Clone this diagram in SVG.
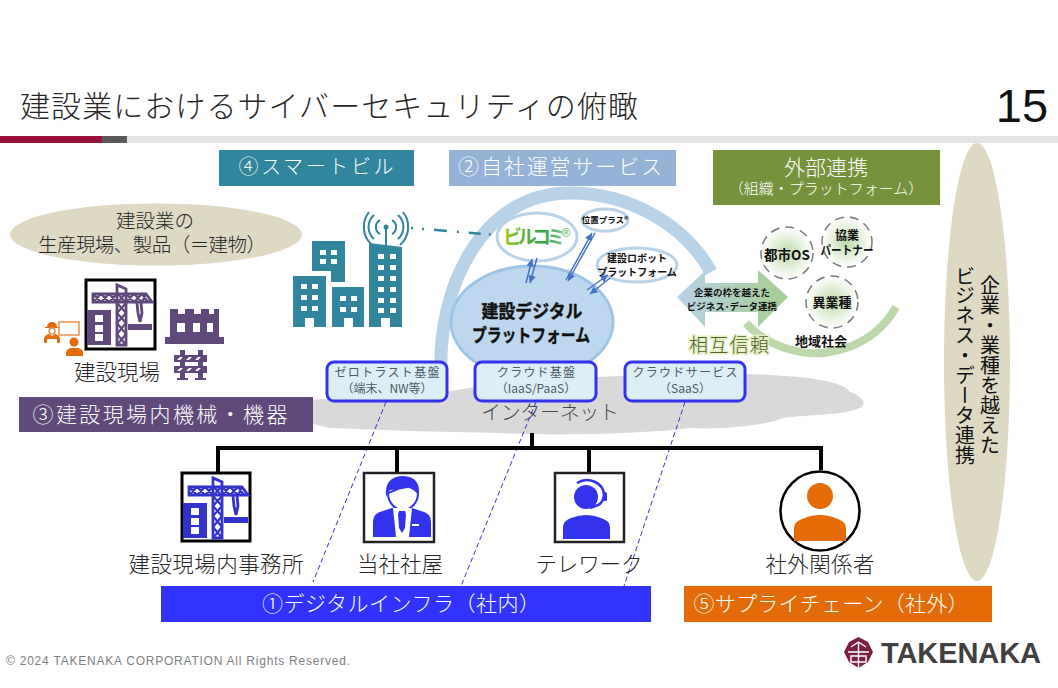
<svg xmlns="http://www.w3.org/2000/svg" xmlns:xlink="http://www.w3.org/1999/xlink" width="1058" height="688" viewBox="0 0 1058 688">
<style>
text{font-family:"Noto Sans CJK JP","Noto Sans",sans-serif;fill:#262626;text-anchor:middle;font-weight:300}
.w{fill:#fff}
.b{font-weight:700;fill:#111}
.lbl{font-size:21.500px}
.st{font-size:12px;fill:#4d5b66;font-weight:400}
.ln{fill:none;stroke:#000;stroke-width:4}
.dsh{fill:none;stroke:#3333cc;stroke-width:1;stroke-dasharray:5 3}
.svc{fill:#dceff7;stroke:#3333ee;stroke-width:3}
.sub{fill:#fff;stroke:#b8d2e8;stroke-width:3}
.org{fill:url(#gc);stroke:#7f7f7f;stroke-width:1.600;stroke-dasharray:9 6}
.ar{stroke:#4472c4;stroke-width:1.500;fill:none;marker-end:url(#ah)}
</style>
<defs>
<radialGradient id="gc"><stop offset="0" stop-color="#bcd9a8"/><stop offset="1" stop-color="#ffffff"/></radialGradient>
<linearGradient id="ga"><stop offset="0" stop-color="#b8d2e8"/><stop offset="1" stop-color="#a5cd8d"/></linearGradient>
<linearGradient id="gb" x1="0" y1="0" x2="1" y2="0"><stop offset="0" stop-color="#9ac81e"/><stop offset="0.6" stop-color="#2fa34a"/><stop offset="1" stop-color="#a8d8a0"/></linearGradient>
<marker id="ah" markerWidth="6" markerHeight="6" refX="5" refY="2.500" orient="auto"><path d="M0 0L5 2.500L0 5z" fill="#4472c4"/></marker>
<symbol id="crane" viewBox="0 0 70 70" overflow="visible">
<path fill="currentColor" d="M2 31h24v35H2z"/>
<path fill="#fff" d="M10 36h8v7h-8zM10 46h8v7h-8zM10 55h8v7h-8z"/>
<g fill="none" stroke="currentColor" stroke-width="2.800">
<path d="M32 66V6l9 4v56z"/>
<path d="M8 15H61L67 23H8z"/>
<path stroke-width="2.200" d="M8 15l8 8l8-8l8 8M32 15l-8 8l-8-8l-8 8M41 23l8-8l8 8l4-8M41 15l8 8l8-8l6 8"/>
<path stroke-width="2.200" d="M32 14l9 10l-9 10l9 10l-9 11l9 11M41 14l-9 10l9 10l-9 10l9 11l-9 11"/>
<path d="M52 24l1 10l2 9M56 24l1 10l-2 9"/>
</g>
<path fill="currentColor" d="M43 45h24v6H43z"/>
</symbol>
<symbol id="bld" viewBox="0 0 33 51" overflow="visible">
<path fill="#31859c" d="M0 0h33v51h-12v-9h-9v9H0z"/>
</symbol>
</defs>
<rect width="1058" height="688" fill="#fff"/>

<g id="header">
<text x="329" y="117" font-size="30" textLength="618" lengthAdjust="spacing">建設業におけるサイバーセキュリティの俯瞰</text>
<text x="1022" y="122" font-size="47" style="font-family:'Liberation Sans',sans-serif;fill:#111;font-weight:400">15</text>
<rect x="0" y="136" width="1058" height="7" fill="#e3e3e3"/>
<rect x="0" y="136" width="102" height="7" fill="#96103a"/>
<rect x="102" y="136" width="25" height="7" fill="#595959"/>
</g>

<g id="cloud">
<path d="M300 402C330 396 370 398 420 396C470 388 520 378 600 377C660 374 720 372 770 375C810 377 845 382 850 392C862 396 868 404 860 408C840 416 810 414 783 418C770 424 730 430 690 428C640 434 560 436 500 433C440 432 380 430 330 428C305 424 285 412 300 402z" fill="#d9d9d9"/>
<text x="550" y="420" font-size="20" style="fill:#3f4a4a" textLength="138">インターネット</text>
</g>

<g id="ring"><path d="M441 372C438 290 480 193 570 193C630 193 685 225 711 272" fill="none" stroke="#b8d2e8" stroke-width="13"/></g>

<g id="node-left-title">
<ellipse cx="156" cy="234.500" rx="146" ry="31" fill="#ddd9c3"/>
<text font-size="19.500"><tspan x="155" y="228">建設業の</tspan><tspan x="152" y="252" textLength="228">生産現場、製品（＝建物）</tspan></text>
</g>

<g id="node-site">
<rect x="86" y="280" width="69" height="69" fill="#fff" stroke="#000" stroke-width="3"/>
<use xlink:href="#crane" href="#crane" x="85" y="279" width="70" height="70" color="#5f497a"/>
<g fill="#e36c09">
<path d="M47 327a5 5 0 0 1 10 0h2v1H45v-1z"/>
<circle cx="52" cy="331" r="3" fill="none" stroke="#e7924c" stroke-width="1.500"/>
<path d="M44 343v-5q1-3 5-4l3 2l3-2q4 1 5 4v5h-3v-4h-10v4z"/>
<rect x="59" y="322" width="20" height="13" fill="#fff" stroke="#e7924c" stroke-width="1.500"/>
<circle cx="74" cy="342" r="4.500"/><path d="M66 356v-3q0-4 5-5h7q5 1 5 5v3z"/>
</g>
<g fill="#5f497a">
<path d="M170 337V309h8v5h7v-5h9v5h7v-5h8v5h5v-5h5v28h5v7H165v-7z"/>
<path d="M177 323h8v9h-8zM193 323h7v9h-7zM207 323h6v9h-6z" fill="#fff"/>
<rect x="180" y="350" width="5" height="30"/><rect x="198" y="350" width="5" height="30"/>
<rect x="174" y="355" width="33" height="7"/><rect x="174" y="366" width="33" height="7"/>
<rect x="177" y="378" width="11" height="2"/><rect x="195" y="378" width="11" height="2"/>
<path d="M177 360l3-3h3l-3 3zM186 360l3-3h3l-3 3zM195 360l3-3h3l-3 3zM177 371l3-3h3l-3 3zM186 371l3-3h3l-3 3zM195 371l3-3h3l-3 3z" fill="#fff"/>
</g>
<text x="117" y="380" class="lbl">建設現場</text>
<rect x="19" y="397" width="294" height="35" fill="#604a7b"/>
<text x="160" y="422" font-size="21" class="w" textLength="255">③建設現場内機械・機器</text>
</g>

<g id="node-smart-building">
<rect x="219" y="150" width="195" height="36" fill="#31859c"/>
<text x="316" y="174" font-size="20" class="w" textLength="155">④スマートビル</text>
<g fill="#31859c">
<path d="M312 241h33v41h-14v-11h-19z"/>
<use xlink:href="#bld" href="#bld" x="293" y="276" width="33" height="51"/>
<path d="M332 287h32v40h-11v-9h-9v9h-12z"/>
<path d="M369 243l33 4v80h-12v-9h-9v9h-12z"/>
<rect x="385" y="226" width="2" height="20"/>
<circle cx="386" cy="227" r="2.500"/>
</g>
<g fill="none" stroke="#31859c" stroke-width="2">
<path d="M380 220a8 8 0 0 0 0 14M392 220a8 8 0 0 1 0 14M374 215a16 16 0 0 0 0 24M398 215a16 16 0 0 1 0 24M369 212a24 24 0 0 0 3 33M403 212a24 24 0 0 1 -3 33"/>
</g>
<path fill="#fff" d="M320 250h6v5h-6zM331 250h6v5h-6zM320 259h6v5h-6zM331 259h6v5h-6zM301 284h6v5h-6zM312 284h6v5h-6zM301 295h6v5h-6zM312 295h6v5h-6zM301 306h6v5h-6zM312 306h6v5h-6zM340 296h6v5h-6zM351 296h6v5h-6zM340 307h6v5h-6zM351 307h6v5h-6zM378 254h6v5h-6zM390 254h6v5h-6zM378 265h6v5h-6zM390 265h6v5h-6zM378 276h6v5h-6zM390 276h6v5h-6zM378 287h6v5h-6zM390 287h6v5h-6zM378 298h6v5h-6zM390 298h6v5h-6zM378 308h6v5h-6zM390 308h6v5h-6z"/>
</g>

<g id="node-own-services">
<rect x="449" y="150" width="227" height="36" fill="#95b3d7"/>
<text x="560" y="174" font-size="21" class="w" textLength="204">②自社運営サービス</text>
</g>

<g id="node-platform">
<ellipse cx="532" cy="322" rx="81" ry="56" fill="#bdd7ee" stroke="#9dc3e6" stroke-width="3"/>
<text font-size="18" class="b" stroke="#111" stroke-width=".4"><tspan x="532" y="318" textLength="101" lengthAdjust="spacingAndGlyphs">建設デジタル</tspan><tspan x="531" y="342" textLength="118" lengthAdjust="spacingAndGlyphs">プラットフォーム</tspan></text>
</g>
<g id="node-birukomi">
<ellipse cx="537" cy="237" rx="40" ry="24" class="sub"/>
<text x="537" y="244" font-size="19" style="fill:url(#gb);font-weight:700" textLength="68">ビルコミ®</text>
</g>
<g id="node-ichi">
<ellipse cx="605" cy="220" rx="23" ry="11" class="sub"/>
<text x="605" y="223" font-size="8.500" class="b">位置プラス®</text>
</g>
<g id="node-robot">
<ellipse cx="637" cy="265" rx="40" ry="17" class="sub"/>
<text font-size="10" class="b"><tspan x="637" y="262">建設ロボット</tspan><tspan x="637" y="276">プラットフォーム</tspan></text>
</g>

<g id="node-external">
<rect x="713" y="150" width="227" height="55" fill="#76923c"/>
<text class="w"><tspan x="826" y="175" font-size="21">外部連携</tspan><tspan x="826" y="194" font-size="15">（組織・プラットフォーム）</tspan></text>
</g>
<g id="node-bridge">
<path d="M746 323C770 350 808 356 830 352C868 346 888 322 896 307" fill="none" stroke="#bcd8ab" stroke-width="8"/>
<path d="M677 297L705 271V283H758V270L788 297L758 327V312H705V327z" fill="url(#ga)"/>
<text font-size="9.500" class="b"><tspan x="732" y="296">企業の枠を越えた</tspan><tspan x="732" y="310">ビジネス･データ連携</tspan></text>
<text x="729" y="352" font-size="19" stroke="#e6f0c4" stroke-width="3" paint-order="stroke" style="fill:#4f6228" textLength="80">相互信頼</text>
</g>
<g id="node-city-os"><circle cx="787" cy="253" r="26" class="org"/><text x="787" y="260" font-size="13.500" class="b">都市OS</text></g>
<g id="node-partner"><circle cx="847" cy="242" r="25" class="org"/><text font-size="12" class="b"><tspan x="847" y="240">協業</tspan><tspan x="847" y="255" textLength="53" lengthAdjust="spacingAndGlyphs">パートナー</tspan></text></g>
<g id="node-other"><circle cx="832" cy="302" r="26" class="org"/><text x="832" y="307" font-size="13" class="b">異業種</text></g>
<g id="node-region"><text x="821" y="346" font-size="13" class="b">地域社会</text></g>

<g id="node-svc-zero"><rect x="327" y="362" width="120" height="39" rx="7" class="svc"/><text class="st"><tspan x="387" y="377" textLength="105">ゼロトラスト基盤</tspan><tspan x="387" y="393">（端末、NW等）</tspan></text></g>
<g id="node-svc-cloud"><rect x="475" y="362" width="121" height="39" rx="7" class="svc"/><text class="st"><tspan x="536" y="377" textLength="78">クラウド基盤</tspan><tspan x="536" y="393">（IaaS/PaaS）</tspan></text></g>
<g id="node-svc-saas"><rect x="625" y="362" width="120" height="39" rx="7" class="svc"/><text class="st"><tspan x="685" y="377" textLength="105">クラウドサービス</tspan><tspan x="685" y="393">（SaaS）</tspan></text></g>

<g id="node-banner-right">
<ellipse cx="977" cy="362" rx="33" ry="219" fill="#ddd9c3"/>
<text x="990" y="275" font-size="20" style="writing-mode:vertical-rl;text-anchor:start;fill:#111;font-weight:400" textLength="180">企業・業種を越えた</text>
<text x="965" y="266" font-size="20" style="writing-mode:vertical-rl;text-anchor:start;fill:#111;font-weight:400" textLength="199">ビジネス・データ連携</text>
</g>

<g id="connectors">
<path class="dsh" d="M386 402L313 582M536 402L461 586M685 402L624 586"/>
<path d="M411 228L497 235" fill="none" stroke="#31859c" stroke-width="2.500" stroke-dasharray="2 9 2 10 13 10 2 10 12 8 2 8 9 9"/>
<path class="ar" d="M537 258L530 283"/><path class="ar" d="M526 283L532 259"/>
<path class="ar" d="M595 233L568 281"/><path class="ar" d="M566 280L592 233"/>
<path class="ar" d="M610 278L590 294"/><path class="ar" d="M587 290L608 275"/>
<path class="ln" d="M532 433V448M218 472V448H821V470M397 448V472M589 448V472"/>
</g>

<g id="node-office">
<rect x="182" y="473" width="68" height="68" fill="#fff" stroke="#000" stroke-width="3"/>
<use xlink:href="#crane" href="#crane" x="181" y="472" width="70" height="70" color="#3333cc"/>
<text x="216" y="572" class="lbl" textLength="175">建設現場内事務所</text>
</g>
<g id="node-hq">
<rect x="364" y="473" width="70" height="69" fill="#fff" stroke="#222" stroke-width="2.500"/>
<path d="M374 537V522q0-9 10-11l12-4h14l12 4q10 2 10 11v15z" fill="#3333ee" transform="translate(-1 0)"/>
<path d="M388 493a15 17 0 1 0 30 0q-6-7-14-7q-7 4-16 7z" fill="#fff" stroke="#3333ee" stroke-width="2"/>
<path d="M386 497q-2-20 16-21q16 0 17 14q0 6-1 7q-1-8-6-10q-12 3-22 3q-3 3-4 7z" fill="#3333ee"/>
<path d="M393 508h19l-3 29h-13z" fill="#fff"/>
<path d="M399 511h6l1 3l-1 14l-3 5l-3-5l-1-14z" fill="#3333ee"/>
<rect x="412" y="524" width="7" height="2" fill="#fff"/>
<text x="400" y="572" class="lbl">当社社屋</text>
</g>
<g id="node-telework">
<rect x="555" y="473" width="69" height="69" fill="#fff" stroke="#222" stroke-width="2.500"/>
<circle cx="586" cy="497" r="12" fill="#3333ee"/>
<path d="M577 483a17 15 0 0 1 27 12q-1 8-6 10l-8 3" fill="none" stroke="#3333ee" stroke-width="2.500"/>
<rect x="603" y="492" width="4" height="9" rx="1.500" fill="#3333ee"/>
<path d="M563 539V527q0-6 8-9q8-3 15-3q8 0 15 3q9 3 9 9v12z" fill="#3333ee"/>
<text x="589" y="572" class="lbl" textLength="107">テレワーク</text>
</g>
<g id="node-partners">
<circle cx="820" cy="511" r="39.500" fill="#fff" stroke="#000" stroke-width="2.500"/>
<circle cx="820" cy="496" r="13" fill="#e36c09"/>
<path d="M794 541V528q0-6 8-9q9-4 18-4q9 0 18 4q8 3 8 9v13z" fill="#e36c09"/>
<text x="820" y="572" class="lbl" textLength="109">社外関係者</text>
</g>
<g id="node-digital-infra">
<rect x="161" y="586" width="490" height="36" fill="#3333ff"/>
<text x="401" y="611" font-size="21" class="w" textLength="278">①デジタルインフラ（社内）</text>
</g>
<g id="node-supply">
<rect x="684" y="586" width="308" height="36" fill="#e36c09"/>
<text x="831" y="611" font-size="21" class="w" textLength="275">⑤サプライチェーン（社外）</text>
</g>
<g id="footer">
<text x="178" y="665" font-size="12" style="font-family:'Liberation Sans',sans-serif;fill:#7f7f7f;font-weight:400" textLength="344">© 2024 TAKENAKA CORPORATION All Rights Reserved.</text>
<path d="M858.500 637L868 642L873 652L868 662L858.500 668L849 662L844 652L849 642z" fill="#7b1f43"/>
<path d="M851 647L858.500 642L866 647M848 652H869M851 656H866V662H851zM858.500 642V668" fill="none" stroke="#fff" stroke-width="1.400"/>
<text x="961" y="663" font-size="29" style="font-family:'Liberation Sans',sans-serif;font-weight:700;fill:#404040" textLength="160">TAKENAKA</text>
</g>
</svg>
